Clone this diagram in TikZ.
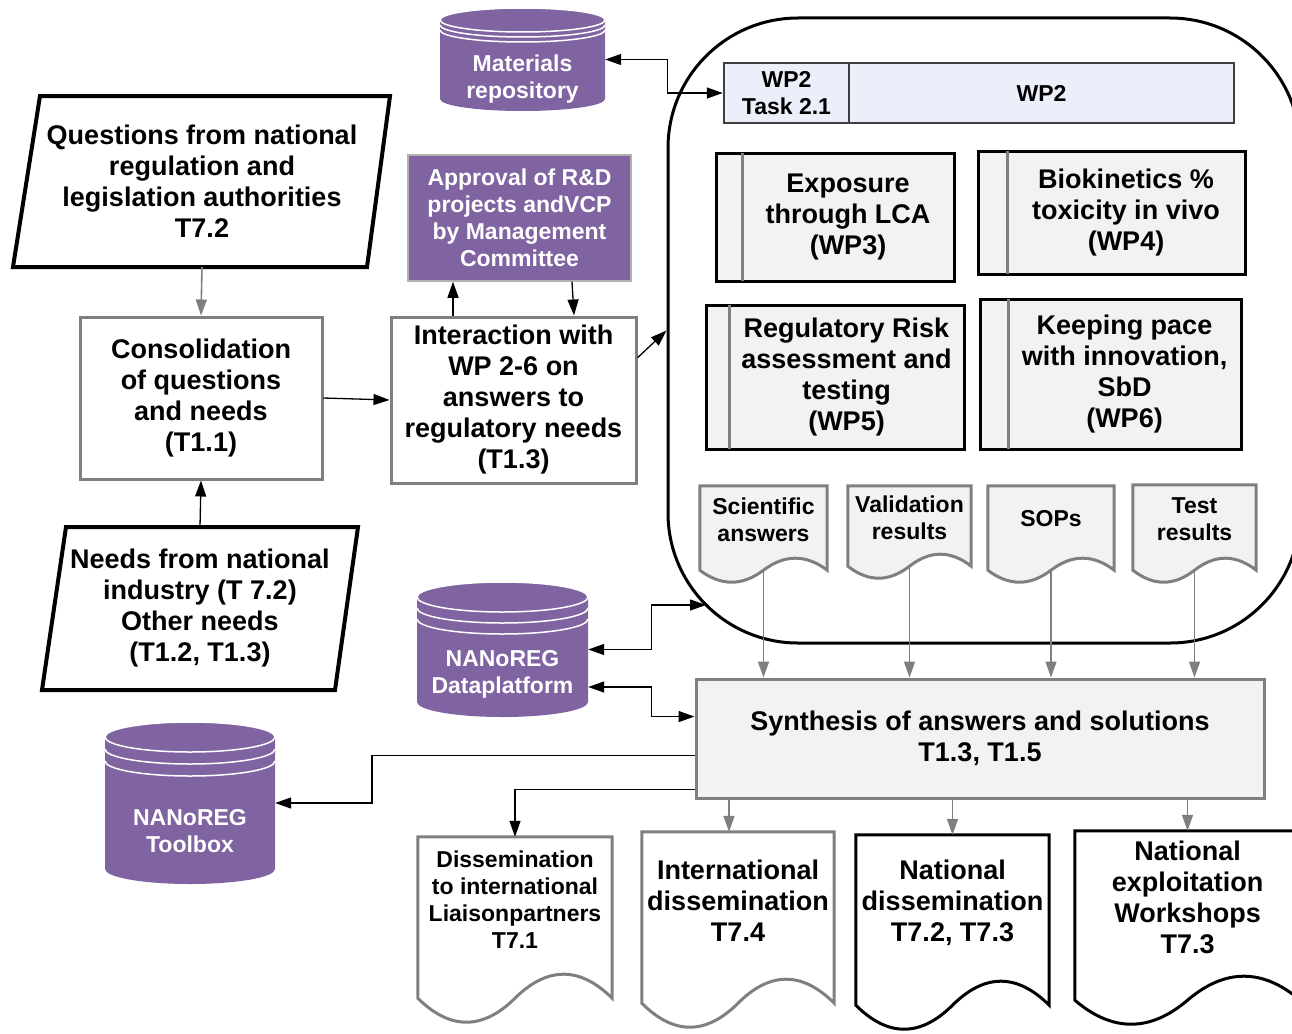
\documentclass[tikz,border=0pt]{standalone}
\usepackage{fontspec}
\setmainfont{Liberation Sans}
\usetikzlibrary{arrows.meta, calc, fit, backgrounds}

\definecolor{nrpurple}{HTML}{8064A2}
\definecolor{boxgray}{HTML}{7F7F7F}
\definecolor{boxfill}{HTML}{F2F2F2}
\definecolor{wpblue}{HTML}{ECEFF9}
\definecolor{wpedge}{HTML}{3F3F3F}

\newcommand{\bigtext}{\fontsize{27}{31}\selectfont\bfseries}
\newcommand{\smalltext}{\fontsize{23}{27}\selectfont\bfseries}

% database drum: name, left, right, top, bottom, lid half height, ring gap
\newcommand{\drum}[7]{%
  \pgfmathsetmacro{\drx}{(#3-#2)/2}%
  \pgfmathsetmacro{\dcx}{(#3+#2)/2}%
  \fill[nrpurple] (#2,#4+#6) -- (#2,#5-#6)
    arc[start angle=180, end angle=360, x radius=\drx pt, y radius=#6pt]
    -- (#3,#4+#6)
    arc[start angle=0, end angle=180, x radius=\drx pt, y radius=#6pt] -- cycle;
  \draw[white, line width=1.5pt] (\dcx,#4+#6) ellipse[x radius=\drx pt, y radius=#6pt];
  \draw[white, line width=1.5pt] (#2,#4+#6+#7)
    arc[start angle=180, end angle=360, x radius=\drx pt, y radius=#6pt];
  \draw[white, line width=1.5pt] (#2,#4+#6+2*#7)
    arc[start angle=180, end angle=360, x radius=\drx pt, y radius=#6pt];
  \coordinate (#1-nw) at (#2,#4);
  \coordinate (#1-se) at (#3,#5);
  \node[fit=(#1-nw)(#1-se), inner sep=0pt] (#1) {};
}

% document sheet round a text node: node, drop of the wavy edge, wave depth, style
\newcommand{\docshape}[4]{%
  \coordinate (#1-l) at ($(#1.south west)+(0,#2)$);
  \coordinate (#1-r) at ($(#1.south east)+(0,#2)$);
  \coordinate (#1-b) at ($(#1-l)!0.5!(#1-r)$);
  \draw[#4] (#1.north west) -- (#1.north east) -- (#1-r)
    .. controls ($(#1-r)!0.333!(#1-b)+(0,-#3)$) and ($(#1-r)!0.667!(#1-b)+(0,-#3)$) .. (#1-b)
    .. controls ($(#1-b)!0.333!(#1-l)+(0,#3)$) and ($(#1-b)!0.667!(#1-l)+(0,#3)$) .. (#1-l)
    -- cycle;
}

\tikzset{
  txt/.style={align=center, inner sep=0pt, font=\bigtext},
  smalltxt/.style={align=center, inner sep=0pt, font=\smalltext},
  graybox/.style={txt, draw=boxgray, line width=3pt},
  purplebox/.style={smalltxt, fill=nrpurple, draw=boxgray!60, line width=1.5pt, text=white},
  taskbox/.style={smalltxt, fill=wpblue, draw=wpedge, line width=2.5pt},
  wpbox/.style={txt, fill=boxfill, outer sep=0pt},
  wpline/.style={draw=black, line width=3pt},
  barline/.style={draw=boxgray, line width=3pt},
  frame/.style={draw, line width=3pt, rounded corners=130pt, inner sep=0pt},
  para/.style={draw, line width=4pt},
  docgray/.style={draw=boxgray, line width=3pt},
  docblack/.style={draw=black, line width=3pt},
  link/.style={->, line width=1.3pt},
  dlink/.style={<->, line width=1.3pt},
  glink/.style={->, draw=boxgray, line width=1.6pt},
}

\begin{document}
\begin{tikzpicture}[x=1pt, y=-1pt, >={Triangle[length=16pt,width=11pt]}]

\useasboundingbox (0,0) rectangle (1292,1033);
\clip (0,0) rectangle (1292,1033);

% round frame holding the work packages
\node[frame, minimum width=632pt, minimum height=625pt] (wpframe) at (984,330.5) {};
\coordinate (framein) at (706,605);

% data stores
\drum{mat}{440}{605}{8}{111}{12}{5}
\node[smalltxt, text=white] (mat-txt) at ([yshift=-19.5pt]mat.center) {Materials\\repository};
\drum{dplat}{417}{588}{582}{717}{15}{11}
\node[smalltxt, text=white] (dplat-txt) at ([yshift=-24.5pt]dplat.center) {NANoREG\\Dataplatform};
\drum{tool}{105}{275}{722}{884}{15}{12}
\node[smalltxt, text=white] (tool-txt) at ([yshift=-28pt]tool.center) {NANoREG\\Toolbox};

% incoming questions and needs
\node[txt, minimum height=171pt] (ques) at (202,181.5)
  {Questions from national\\regulation and\\legislation authorities\\T7.2};
\draw[para] (40,96) -- (390,96) -- (367,267) -- (13,267) -- cycle;
\node[txt, minimum height=163pt] (needs) at (200,608.5)
  {Needs from national\\industry (T 7.2)\\Other needs\\(T1.2, T1.3)};
\draw[para] (66,527) -- (358,527) -- (335,690) -- (42,690) -- cycle;

\node[graybox, minimum width=242pt, minimum height=162pt] (cons) at (201,398)
  {Consolidation\\of questions\\and needs\\(T1.1)};
\node[graybox, minimum width=245pt, minimum height=166pt] (inter) at (513.5,400)
  {Interaction with\\WP 2-6 on\\answers to\\regulatory needs\\(T1.3)};
\node[purplebox, minimum width=223pt, minimum height=126pt] (appr) at (519.5,218)
  {Approval of R\&D\\projects andVCP\\by Management\\Committee};

% work packages
\node[taskbox, minimum width=125pt, minimum height=60pt] (task) at (786.5,93) {WP2\\Task 2.1};
\node[taskbox, minimum width=385pt, minimum height=60pt] (wp2) at (1041.5,93) {WP2};

\node[wpbox, minimum width=212pt, minimum height=128pt] (exp) at (848,217)
  {Exposure\\through LCA\\(WP3)};
\node[wpbox, minimum width=238pt, minimum height=123pt] (bio) at (1126,212.5)
  {Biokinetics \%\\toxicity in vivo\\(WP4)};
\node[wpbox, minimum width=235pt, minimum height=144pt] (reg) at (846.5,377)
  {Regulatory Risk\\assessment and\\testing\\(WP5)};
\node[wpbox, minimum width=233pt, minimum height=150pt] (pace) at (1124.5,374)
  {Keeping pace\\with innovation,\\SbD\\(WP6)};
\foreach \n/\s in {exp/26, bio/29, reg/23, pace/28}{
  \fill[boxfill] ([xshift=-\s pt]\n.north west) rectangle (\n.south west);
  \draw[wpline] ([xshift=-\s pt]\n.north west) rectangle (\n.south east);
  \draw[barline] (\n.north west) -- (\n.south west);
}

% results
\node[smalltxt, minimum width=127pt, minimum height=67pt] (sci) at (763.5,519.5) {Scientific\\answers};
\node[smalltxt, minimum width=123pt, minimum height=63pt] (val) at (909.5,517.5) {Validation\\results};
\node[smalltxt, minimum width=126pt, minimum height=66pt] (sop) at (1051,519) {SOPs};
\node[smalltxt, minimum width=123pt, minimum height=68pt] (test) at (1194.5,519) {Test\\results};

\node[graybox, fill=boxfill, minimum width=568pt, minimum height=119pt] (synth) at (980,738.5)
  {Synthesis of answers and solutions\\T1.3, T1.5};

% outputs
\node[smalltxt, minimum width=194pt, minimum height=126pt] (dissem) at (515,900)
  {Dissemination\\to international\\Liaisonpartners\\T7.1};
\node[txt, minimum width=192pt, minimum height=138pt] (intl) at (738,901)
  {International\\dissemination\\T7.4};
\node[txt, minimum width=193pt, minimum height=135pt] (natdis) at (952.5,902.5)
  {National\\dissemination\\T7.2, T7.3};
\node[txt, minimum width=225pt, minimum height=133pt] (natexp) at (1187.5,897.5)
  {National\\exploitation\\Workshops\\T7.3};

\begin{scope}[on background layer]
  \clip (0,0) rectangle (1292,1033);
  \docshape{sci}{17}{16}{docgray, fill=boxfill}
  \docshape{val}{17}{16}{docgray, fill=boxfill}
  \docshape{sop}{18}{16}{docgray, fill=boxfill}
  \docshape{test}{17}{16}{docgray, fill=boxfill}
  \docshape{dissem}{35}{32}{docgray}
  \docshape{intl}{33}{32}{docgray}
  \docshape{natdis}{35}{32}{docblack}
  \docshape{natexp}{36}{32}{docblack}
\end{scope}

% connectors
\draw[glink] (ques.south) -- (cons.north);
\draw[link] (needs.north) -- (cons.south);
\draw[link] (cons.east) -- (inter.west);
\draw[link] ([xshift=-60.5pt]inter.north) -- ([xshift=-66.5pt]appr.south);
\draw[link] ([xshift=52.5pt]appr.south) -- ([xshift=60.5pt]inter.north);
\draw[link] ($(inter.north east)!0.25!(inter.south east)$) -- (wpframe.west);
\draw[dlink] (mat.east) -- ++(62,0) |- (task.west);
\draw[dlink] (dplat.east) -- ++(63,0) |- (framein);
\draw[dlink] ([yshift=-37.5pt]dplat.east) -- ++(63,0) |- ($(synth.north west)!0.32!(synth.south west)$);

\draw[glink] (sci-b) -- (sci-b |- synth.north);
\draw[glink] (val-b) -- (val-b |- synth.north);
\draw[glink] (sop-b) -- (sop-b |- synth.north);
\draw[glink] (test-b) -- (test-b |- synth.north);

\draw[link] ($(synth.north west)!0.64!(synth.south west)$) -- ++(-322.5,0) |- (tool.east);
\draw[link] ($(synth.north west)!0.92!(synth.south west)$) -| (dissem.north);
\draw[glink] ([xshift=-9pt]intl.north |- synth.south) -- ([xshift=-9pt]intl.north);
\draw[glink] (natdis.north |- synth.south) -- (natdis.north);
\draw[glink] (natexp.north |- synth.south) -- (natexp.north);

\end{tikzpicture}
\end{document}
